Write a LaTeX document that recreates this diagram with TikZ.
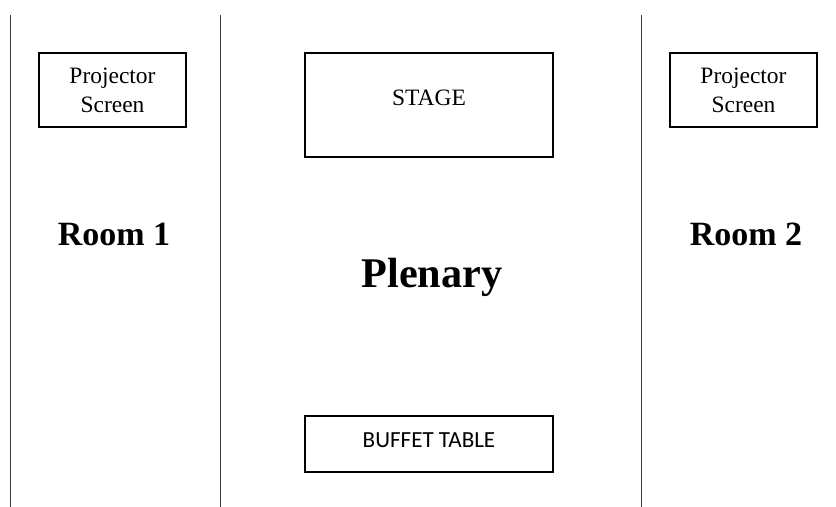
\documentclass[tikz,border=0pt]{standalone}
\usepackage{fontspec}
\setmainfont{Liberation Serif}
\newfontfamily\bodySans{Carlito}
\definecolor{wallGray}{HTML}{3A3A3A}
\definecolor{boxBlack}{HTML}{000000}
\usetikzlibrary{positioning}

\tikzset{
  wall/.style={draw=wallGray, line width=0.9pt},
  roomBox/.style={draw=boxBlack, line width=1.6pt, inner sep=0pt, align=center},
  smallText/.style={font=\fontsize{17.6}{21.75}\selectfont},
  roomTitle/.style={font=\bfseries\fontsize{25.5}{30}\selectfont},
  plenaryTitle/.style={font=\bfseries\fontsize{31.7}{36}\selectfont},
}

\begin{document}
\begin{tikzpicture}[x=0.75pt, y=-0.75pt]
  \useasboundingbox (0,0) rectangle (836,507);

  % walls between the rooms
  \coordinate (wallAtop) at (10.5,15);   \coordinate (wallAbot) at (10.5,507);
  \coordinate (wallBtop) at (220.5,15);  \coordinate (wallBbot) at (220.5,507);
  \coordinate (wallCtop) at (641.5,15);  \coordinate (wallCbot) at (641.5,507);
  \draw[wall] (wallAtop) -- (wallAbot);
  \draw[wall] (wallBtop) -- (wallBbot);
  \draw[wall] (wallCtop) -- (wallCbot);

  % room 1
  \node[roomBox, smallText, minimum width=110.25pt, minimum height=55.5pt] (screenOne) at (112.5,90) {Projector\\Screen};
  \node[roomTitle] (roomOne) at (114,234) {Room 1};

  % plenary
  \node[roomBox, smallText, minimum width=186pt, minimum height=78pt,
        label={[smallText, yshift=5.25pt]center:STAGE}] (stage) at (429,105) {};
  \node[plenaryTitle] (plenary) at (432,277) {Plenary};
  \node[roomBox, minimum width=186pt, minimum height=42pt,
        label={[font=\bodySans\fontsize{17.3}{21}\selectfont, yshift=3pt]center:BUFFET TABLE}] (buffet) at (429,444) {};

  % room 2
  \node[roomBox, smallText, minimum width=110.25pt, minimum height=55.5pt] (screenTwo) at (743.5,90) {Projector\\Screen};
  \node[roomTitle] (roomTwo) at (746,234) {Room 2};
\end{tikzpicture}
\end{document}
